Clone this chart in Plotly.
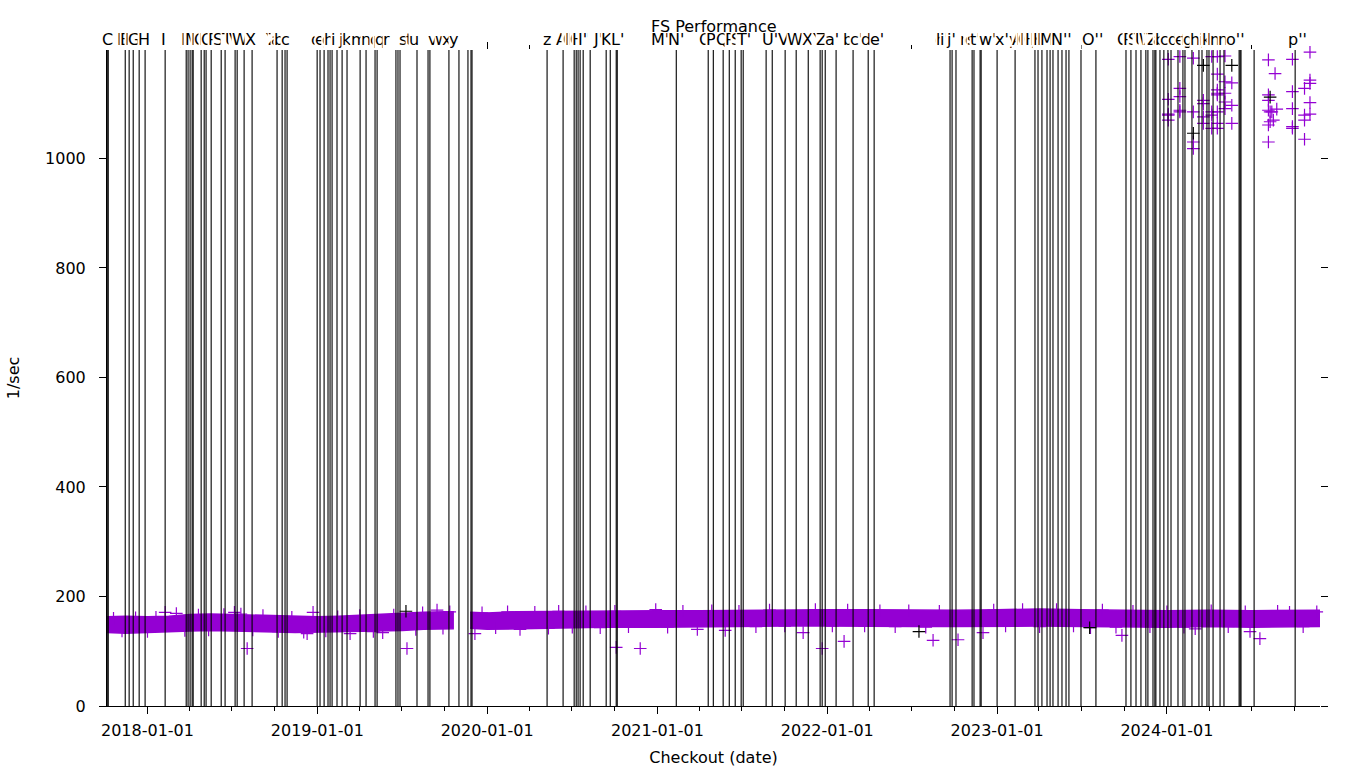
import datetime as dt
import plotly.graph_objects as go

# ---------------- data (decimal years) ----------------
# vertical release/commit markers
marker_lines = [
    2017.763, 2017.769, 2017.869, 2017.892, 2017.916, 2017.951, 2017.986, 2018.104,
    2018.228, 2018.239, 2018.251, 2018.263, 2018.269, 2018.316, 2018.334, 2018.345,
    2018.375, 2018.434, 2018.457, 2018.516, 2018.528, 2018.569, 2018.616, 2018.763,
    2018.793, 2018.810, 2018.822,
    2018.999, 2019.016, 2019.040, 2019.063, 2019.075, 2019.087, 2019.116, 2019.146,
    2019.175, 2019.252, 2019.287, 2019.340, 2019.352, 2019.463, 2019.475, 2019.487,
    2019.587, 2019.652, 2019.663, 2019.775, 2019.834, 2019.887, 2019.905, 2019.911,
    2020.352, 2020.446, 2020.511, 2020.523, 2020.534, 2020.546, 2020.564, 2020.605,
    2020.699, 2020.723, 2020.758, 2020.764, 2021.111, 2021.299, 2021.329, 2021.387,
    2021.423, 2021.458, 2021.493, 2021.505,
    2021.640, 2021.676, 2021.752, 2021.817, 2021.888, 2021.958, 2021.970, 2021.988,
    2022.052, 2022.152, 2022.241, 2022.276,
    2022.723, 2022.735, 2022.758, 2022.853, 2022.864, 2022.900, 2022.906, 2023.000,
    2023.106, 2023.223, 2023.241, 2023.264, 2023.294, 2023.312, 2023.329, 2023.359,
    2023.382, 2023.406, 2023.423, 2023.494, 2023.582,
    2023.759, 2023.788, 2023.818, 2023.847, 2023.876, 2023.888, 2023.918, 2023.929,
    2023.935, 2023.959, 2023.982, 2024.006, 2024.024, 2024.065, 2024.094, 2024.106,
    2024.147, 2024.188, 2024.206, 2024.235, 2024.247, 2024.271, 2024.312, 2024.335,
    2024.424, 2024.430, 2024.435, 2024.512, 2024.753,
]

label_texts = (
    list("ABCDEFGHIJKLMNOPQRSTUVWXYZabcdefghijklmnopqrstuvwxyz")
    + [c + "'" for c in "ABCDEFGHIJKLMNOPQRSTUVWXYZabcdefghijklmnopqrstuvwxyz"]
    + [c + "''" for c in "ABCDEFGHIJKLMNOPQRSTUVWXYZabcdefghijklmnop"]
)
label_pos = [
    # A..Z
    2017.763, 2017.763, 2017.766, 2017.857, 2017.866, 2017.892, 2017.922, 2017.981,
    2018.092, 2018.216, 2018.228, 2018.239, 2018.263, 2018.292, 2018.310, 2018.334,
    2018.351, 2018.387, 2018.416, 2018.463, 2018.492, 2018.510, 2018.545, 2018.604,
    2018.722, 2018.740,
    # a..z
    2018.757, 2018.775, 2018.810, 2018.993, 2019.016, 2019.046, 2019.057, 2019.069,
    2019.093, 2019.134, 2019.175, 2019.210, 2019.246, 2019.287, 2019.340, 2019.357,
    2019.369, 2019.410, 2019.505, 2019.540, 2019.569, 2019.681, 2019.734, 2019.763,
    2019.799, 2020.352,
    # A'..Z'
    2020.446, 2020.481, 2020.493, 2020.505, 2020.517, 2020.529, 2020.534, 2020.546,
    2020.558, 2020.652, 2020.711, 2020.764, 2021.017, 2021.111, 2021.293, 2021.329,
    2021.393, 2021.446, 2021.476, 2021.505, 2021.664, 2021.752, 2021.823, 2021.894,
    2021.952, 2021.976,
    # a'..z'
    2022.029, 2022.135, 2022.170, 2022.241, 2022.294, 2022.670, 2022.676, 2022.682,
    2022.688, 2022.729, 2022.829, 2022.835, 2022.841, 2022.847, 2022.847, 2022.853,
    2022.853, 2022.859, 2022.859, 2022.870, 2022.929, 2022.935, 2022.941, 2023.029,
    2023.112, 2023.141,
    # A''..Z''
    2023.147, 2023.170, 2023.182, 2023.194, 2023.206, 2023.217, 2023.223, 2023.229,
    2023.235, 2023.247, 2023.270, 2023.288, 2023.323, 2023.382, 2023.559, 2023.759,
    2023.770, 2023.800, 2023.829, 2023.859, 2023.876, 2023.900, 2023.912, 2023.918,
    2023.929, 2023.941,
    # a''..p''
    2023.976, 2023.988, 2024.012, 2024.065, 2024.106, 2024.124, 2024.153, 2024.194,
    2024.224, 2024.241, 2024.259, 2024.271, 2024.324, 2024.353, 2024.400, 2024.765,
]

# dense band of measurements: visible envelope of the point cloud (1/sec)
band1_t = [2017.763, 2017.870, 2018.000, 2018.125, 2018.250, 2018.370, 2018.500,
           2018.625, 2018.750, 2018.870, 2019.000, 2019.125, 2019.250, 2019.370,
           2019.500, 2019.625, 2019.750, 2019.800]
band1_lo = [134, 133, 134, 135, 137, 138, 137, 136, 135, 134, 134, 135, 136, 137,
            138, 140, 141, 141]
band1_hi = [163, 164, 163, 164, 167, 168, 167, 166, 164, 163, 163, 164, 166, 167,
            169, 171, 172, 172]
band2_t = [2019.900, 2020.000, 2020.170, 2020.420, 2020.670, 2021.000, 2021.250,
           2021.500, 2021.750, 2022.000, 2022.250, 2022.500, 2022.750, 2023.000,
           2023.250, 2023.500, 2023.750, 2024.000, 2024.250, 2024.500, 2024.900]
band2_lo = [142, 140, 142, 143, 144, 144, 144, 145, 146, 146, 146, 145, 145, 145,
            146, 145, 144, 144, 145, 144, 145]
band2_hi = [171, 170, 172, 173, 174, 174, 174, 175, 176, 176, 176, 175, 175, 176,
            177, 176, 175, 174, 175, 174, 175]

# individual points standing out of the band, and the high values of 2024
fs_t = [
    2017.800, 2017.850, 2017.930, 2018.000, 2018.050, 2018.104, 2018.170, 2018.220,
    2018.300, 2018.360, 2018.450, 2018.512, 2018.550, 2018.587, 2018.620, 2018.680,
    2018.770, 2018.850, 2018.920, 2018.940, 2018.975, 2019.050, 2019.120, 2019.193,
    2019.250, 2019.330, 2019.385, 2019.450, 2019.528, 2019.580, 2019.620, 2019.705,
    2019.740, 2019.780,
    2019.928, 2019.970, 2020.050, 2020.120, 2020.193, 2020.280, 2020.360, 2020.420,
    2020.500, 2020.580, 2020.664, 2020.750, 2020.758, 2020.830, 2020.899, 2020.990,
    2021.060, 2021.150, 2021.235, 2021.320, 2021.399, 2021.480, 2021.580, 2021.660,
    2021.750, 2021.858, 2021.930, 2021.970, 2022.030, 2022.099, 2022.120, 2022.220,
    2022.310, 2022.400, 2022.480, 2022.580, 2022.623, 2022.660, 2022.770, 2022.917,
    2022.980, 2023.050, 2023.150, 2023.250, 2023.350, 2023.450, 2023.550, 2023.620,
    2023.700, 2023.735, 2023.800, 2023.900, 2024.000, 2024.100, 2024.166, 2024.260,
    2024.360, 2024.460, 2024.488, 2024.546, 2024.650, 2024.720, 2024.800, 2024.880,
    # high values
    2024.008, 2024.008, 2024.008, 2024.008, 2024.008,
    2024.076, 2024.076, 2024.076, 2024.076, 2024.076,
    2024.155, 2024.155, 2024.155, 2024.155,
    2024.214, 2024.214, 2024.214, 2024.214,
    2024.263, 2024.263, 2024.263, 2024.263,
    2024.296, 2024.296, 2024.296, 2024.296, 2024.296, 2024.296, 2024.296, 2024.296,
    2024.341, 2024.341, 2024.341, 2024.341, 2024.341,
    2024.381, 2024.381, 2024.381,
    2024.596, 2024.596, 2024.596, 2024.596, 2024.596, 2024.596,
    2024.606, 2024.606, 2024.616, 2024.625, 2024.635, 2024.645,
    2024.737, 2024.737, 2024.737, 2024.737, 2024.737,
    2024.808, 2024.808, 2024.808, 2024.808,
    2024.840, 2024.840, 2024.840, 2024.840, 2024.840,
]
fs_v = [
    160, 137, 161, 136, 162, 171, 169, 138,
    166, 139, 167, 171, 168, 105, 139, 165,
    136, 162, 135, 132, 171, 137, 163, 132,
    165, 136, 134, 166, 105, 140, 170, 175,
    142, 172,
    132, 170, 143, 172, 140, 171, 142, 173,
    144, 172, 143, 173, 107, 145, 105, 176,
    144, 173, 140, 174, 138, 173, 145, 175,
    146, 134, 176, 105, 146, 118, 175, 146,
    174, 145, 174, 144, 120, 173, 121, 134,
    175, 146, 176, 145, 176, 146, 143, 175,
    144, 129, 173, 145, 172, 144, 141, 174,
    145, 172, 136, 123, 173, 171, 145, 172,
    1181, 1108, 1081, 1079, 1070,
    1186, 1128, 1113, 1088, 1085,
    1183, 1085, 1030, 1018,
    1106, 1100, 1076, 1064,
    1186, 1085, 1079, 1055,
    1186, 1154, 1125, 1119, 1116, 1085, 1064, 1055,
    1187, 1140, 1119, 1103, 1091,
    1138, 1097, 1064,
    1180, 1116, 1106, 1088, 1061, 1030,
    1085, 1067, 1085, 1070, 1155, 1090,
    1181, 1122, 1091, 1058, 1055,
    1128, 1079, 1070, 1035,
    1194, 1143, 1137, 1102, 1081,
]

# second series (black)
ref_t = [2019.522, 2022.540, 2023.545, 2024.155, 2024.214, 2024.381, 2024.606]
ref_v = [173, 136, 143, 1046, 1170, 1170, 1112]

x_start, x_end = "2017-10-06", "2024-11-25"
y_max = 1198
y_ticks = [0, 200, 400, 600, 800, 1000]

title_text = "FS Performance"
x_title = "Checkout (date)"
y_title = "1/sec"


def to_date(d):
    y = int(d)
    a = dt.datetime(y, 1, 1)
    b = dt.datetime(y + 1, 1, 1)
    return a + (b - a) * (d - y)


PURPLE = "#9400D3"
FONT = "DejaVu Sans"
FS = 16

fig = go.Figure()

for bt, blo, bhi in [(band1_t, band1_lo, band1_hi), (band2_t, band2_lo, band2_hi)]:
    xs = [to_date(t) for t in bt] + [to_date(t) for t in bt[::-1]]
    ys = list(bhi) + list(blo[::-1])
    fig.add_trace(go.Scatter(
        x=xs, y=ys, mode="lines", fill="toself", fillcolor=PURPLE,
        line=dict(color=PURPLE, width=1.5), hoverinfo="skip", showlegend=False))

fig.add_trace(go.Scatter(
    x=[to_date(t) for t in fs_t], y=fs_v, mode="markers",
    marker=dict(symbol="cross-thin", size=9, line=dict(color=PURPLE, width=1.2)),
    showlegend=False, cliponaxis=False))
fig.add_trace(go.Scatter(
    x=[to_date(t) for t in ref_t], y=ref_v, mode="markers",
    marker=dict(symbol="cross-thin", size=9, line=dict(color="black", width=1.2)),
    showlegend=False, cliponaxis=False))

# dummy trace for the mirrored tick axes
fig.add_trace(go.Scatter(x=[x_start], y=[0], xaxis="x2", yaxis="y2", mode="markers",
                         marker=dict(opacity=0), hoverinfo="skip", showlegend=False))

shapes = []
for t in marker_lines:
    d = to_date(t)
    shapes.append(dict(type="line", xref="x", yref="paper", x0=d, x1=d, y0=0, y1=1,
                       line=dict(color="black", width=1.1), layer="above"))

annotations = []
for txt, t in zip(label_texts, label_pos):
    annotations.append(dict(x=to_date(t), xref="x", y=1, yref="paper",
                            yanchor="bottom", xanchor="center", text=txt,
                            showarrow=False, bgcolor="white", borderpad=0,
                            font=dict(family=FONT, size=FS, color="black")))
annotations.append(dict(x=0.5, xref="paper", y=1, yref="paper", yshift=24,
                        yanchor="middle", xanchor="center", text=title_text,
                        showarrow=False, font=dict(family=FONT, size=FS, color="black")))

axis_common = dict(showgrid=False, zeroline=False, ticks="outside", tickcolor="black",
                   tickwidth=1, ticklen=7, automargin=False,
                   tickfont=dict(family=FONT, size=FS, color="black"))

fig.update_layout(
    width=1360, height=768,
    margin=dict(l=107, r=40, t=50, b=62, pad=0),
    paper_bgcolor="white", plot_bgcolor="white",
    font=dict(family=FONT, size=FS, color="black"),
    showlegend=False,
    xaxis=dict(range=[x_start, x_end], type="date", tick0="2018-01-01", dtick="M12",
               tickformat="%Y-%m-%d", showline=True, linecolor="black", linewidth=1,
               ticklabelstandoff=3,
               minor=dict(dtick="M3", ticks="outside", ticklen=4, tickcolor="black"),
               title=dict(text=x_title, font=dict(family=FONT, size=FS), standoff=12),
               **axis_common),
    yaxis=dict(range=[0, y_max], tickvals=y_ticks, showline=True, linecolor="black",
               linewidth=1, ticklabelstandoff=10,
               title=dict(text=y_title, font=dict(family=FONT, size=FS), standoff=21),
               **axis_common),
    xaxis2=dict(range=[x_start, x_end], type="date", overlaying="x", side="top",
                tick0="2018-01-01", dtick="M12", showticklabels=False, showline=False,
                minor=dict(dtick="M3", ticks="outside", ticklen=4, tickcolor="black"),
                **axis_common),
    yaxis2=dict(range=[0, y_max], overlaying="y", side="right", tickvals=y_ticks,
                showticklabels=False, showline=False, **axis_common),
    shapes=shapes,
    annotations=annotations,
)

fig.write_html("out.html")
